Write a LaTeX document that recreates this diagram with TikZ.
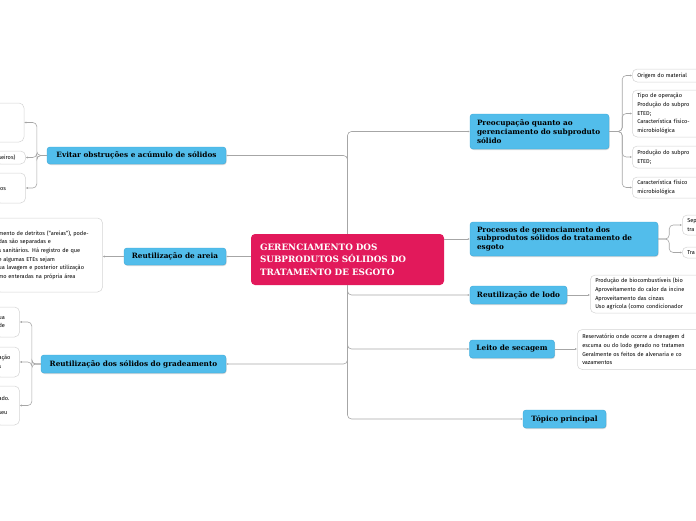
\documentclass[tikz,border=0pt]{standalone}
\usepackage{fontspec}
\setmainfont{Fira Sans}
\newfontfamily\topicfont{DejaVu Serif}
\usetikzlibrary{positioning,arrows.meta,shadows}

\definecolor{topicblue}{HTML}{52BDEB}
\definecolor{topicedge}{HTML}{3AA6D6}
\definecolor{rootpink}{HTML}{E2195B}
\definecolor{leafedge}{HTML}{D4D4D4}
\definecolor{linkgray}{HTML}{A6A6A6}

\begin{document}
\begin{tikzpicture}[
    x=1pt, y=-1pt,
    topic/.style={draw=topicedge, fill=topicblue, rounded corners=3pt, line width=0.4pt,
                  font=\topicfont\bfseries\fontsize{7.3}{8.8}\selectfont,
                  inner xsep=7pt, inner ysep=0pt, align=left,
                  drop shadow={opacity=0.3, shadow xshift=0.6pt, shadow yshift=-1pt}},
    root/.style={fill=rootpink, rounded corners=4pt, text=white, align=left,
                 font=\topicfont\bfseries\fontsize{8.8}{12.5}\selectfont,
                 inner xsep=9pt, inner ysep=0pt},
    leaf/.style={draw=leafedge, fill=white, rounded corners=5pt, line width=0.5pt,
                 align=left, font=\fontsize{5.6}{8.6}\selectfont,
                 inner xsep=3pt, inner ysep=0pt},
    rleaf/.style={leaf, anchor=west, minimum width=150pt, text width=140pt, inner xsep=5pt},
    link/.style={draw=linkgray, line width=0.6pt, rounded corners=4pt},
    tip/.style={link, -{Latex[length=2pt,width=2pt]}},
  ]
  \useasboundingbox (0,0) rectangle (696,520);
  \clip (0,0) rectangle (696,520);

  % Central topic
  \node[root, text width=175pt, minimum height=51pt] (root) at (347.5,259.5)
    {GERENCIAMENTO DOS\\SUBPRODUTOS SÓLIDOS DO\\TRATAMENTO DE ESGOTO};

  % Left topics
  \node[topic, minimum width=179pt, minimum height=17pt, align=center] (evitar) at (136.5,155.5)
    {Evitar obstruções e acúmulo de sólidos};
  \node[topic, minimum width=102pt, minimum height=17pt, align=center] (areia) at (175,256.5)
    {Reutilização de areia};
  \node[topic, minimum width=185pt, minimum height=18pt, align=center] (grad) at (133.5,364)
    {Reutilização dos sólidos do gradeamento};

  % Right topics
  \node[topic, text width=125pt, minimum height=35pt] (preo) at (539.5,131.5)
    {Preocupação quanto ao\\gerenciamento do subproduto\\sólido};
  \node[topic, text width=174pt, minimum height=34pt] (proc) at (564,239)
    {Processos de gerenciamento dos\\subprodutos sólidos do tratamento de\\esgoto};
  \node[topic, minimum width=97pt, minimum height=18pt, align=center] (lodo) at (518.5,295)
    {Reutilização de lodo};
  \node[topic, minimum width=84pt, minimum height=18pt, align=center] (leito) at (512,349)
    {Leito de secagem};
  \node[topic, minimum width=83pt, minimum height=18pt, align=center] (topico) at (564.5,419)
    {Tópico principal};

  % Left leaves
  \node[leaf, minimum width=54pt, minimum height=39pt] (evA) at (-3,122.5) {};
  \node[leaf, minimum width=27pt, text width=24pt, minimum height=13pt] (evB) at (10.5,157.5) {seiros)};
  \node[leaf, minimum width=27pt, text width=24pt, minimum height=30pt] (evC) at (10.5,188) {los};
  \node[leaf, minimum width=104pt, text width=101pt, minimum height=74pt] (arA) at (49,255)
    {mento de detritos (“areias”), pode-\\das são separadas e\\s sanitários. Há registro de que\\e algumas ETEs sejam\\ua lavagem e posterior utilização\\mo enteradas na própria área\\[6pt]};
  \node[leaf, minimum width=21pt, text width=18pt, minimum height=30pt] (grA) at (7.5,322) {ua\\de};
  \node[leaf, minimum width=21pt, text width=18pt, minimum height=30pt] (grB) at (7.5,362) {ação\\s};
  \node[leaf, minimum width=21pt, text width=18pt, minimum height=39pt] (grC) at (7.5,405.5) {ado.\\[5.4pt]seu};

  % Right leaves
  \node[rleaf, minimum height=13pt] (pA) at (632,75.5) {Origem do material};
  \node[rleaf, minimum height=47pt] (pB) at (632,113.5)
    {Tipo de operação\\Produção do subpro\\ETED;\\Característica físico-\\microbiológica};
  \node[rleaf, minimum height=22pt] (pC) at (632,157) {Produção do subpro\\ETED;};
  \node[rleaf, minimum height=21pt] (pD) at (632,187.5) {Característica físico\\microbiológica};
  \node[rleaf, minimum height=20pt] (prA) at (682,225) {Sep\\tra};
  \node[rleaf, minimum height=11pt] (prB) at (682,252.5) {Tra};
  \node[rleaf, minimum height=38pt] (loA) at (590,294)
    {Produção de biocombustíveis (bio\\Aproveitamento do calor da incine\\Aproveitamento das cinzas\\Uso agrícola (como condicionador};
  \node[rleaf, minimum height=40pt] (leA) at (577,349.5)
    {Reservatório onde ocorre a drenagem d\\escuma ou do lodo gerado no tratamen\\Geralmente os feitos de alvenaria e co\\vazamentos};

  % Trunk links
  \draw[tip] (root.north) |- (preo.west);
  \draw[tip] (root.north) |- (evitar.east);
  \draw[tip] (root.east |- proc.west) -- (proc.west);
  \draw[tip] (root.west |- areia.east) -- (areia.east);
  \draw[tip] (root.south) |- (lodo.west);
  \draw[tip] (root.south) |- (leito.west);
  \draw[tip] (root.south) |- (topico.west);
  \draw[tip] (root.south) |- (grad.east);

  % Leaf links
  \foreach \leafname in {evA,evB,evC}
    \draw[tip] (evitar.west) -- ++(-10,0) |- (\leafname.east);
  \draw[tip] (areia.west) -- (areia.west -| arA.east);
  \foreach \leafname in {grA,grB,grC}
    \draw[tip] (grad.west) -- ++(-9,0) |- (\leafname.east);
  \foreach \leafname in {pA,pB,pC,pD}
    \draw[tip] (preo.east) -- ++(13,0) |- (\leafname.west);
  \foreach \leafname in {prA,prB}
    \draw[tip] (proc.east) -- ++(11,0) |- (\leafname.west);
  \draw[tip] (lodo.east) -- (lodo.east -| loA.west);
  \draw[tip] (leito.east) -- (leito.east -| leA.west);
\end{tikzpicture}
\end{document}
